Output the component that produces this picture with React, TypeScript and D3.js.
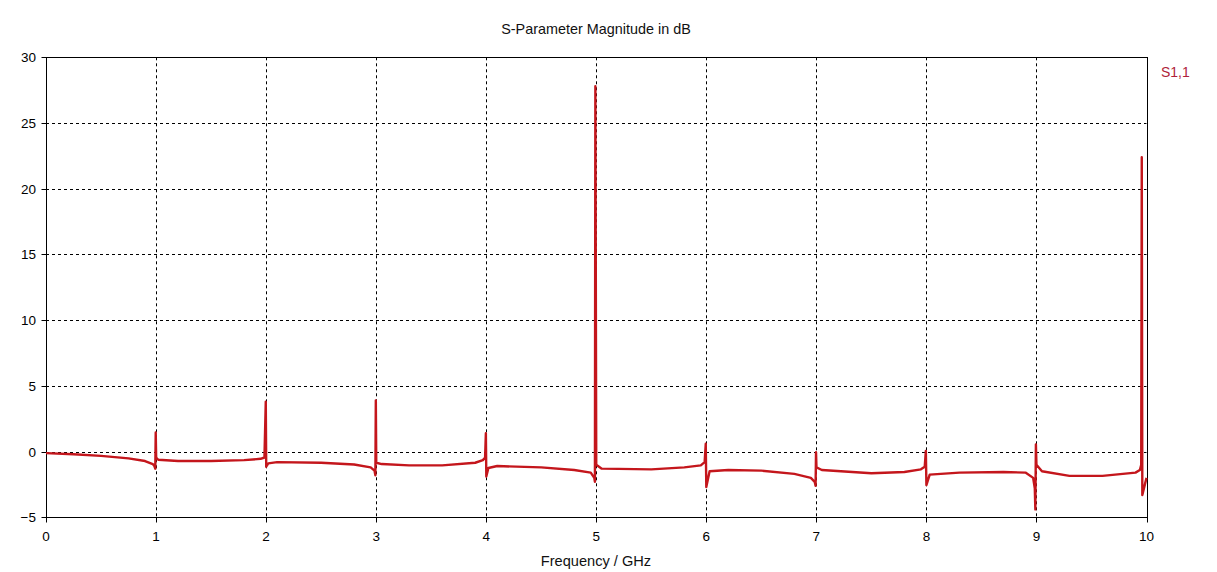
import React, { useEffect, useRef } from "react";
import * as d3 from "d3";

const freqGHz = [
  0, 0.25, 0.5, 0.75, 0.9, 0.97, 0.985, 0.993, 0.997, 1.001, 1.02,
  1.2, 1.5, 1.8, 1.95, 1.985, 1.997, 2.001, 2.02, 2.1,
  2.5, 2.8, 2.95, 2.985, 2.993, 2.997, 3.001, 3.05, 3.3, 3.6, 3.9, 3.97, 3.99, 3.997, 4.001, 4.02, 4.1,
  4.5, 4.8, 4.95, 4.982, 4.988, 4.992, 5.0, 5.05, 5.5, 5.8, 5.95, 5.985, 5.995, 6.0, 6.03, 6.2,
  6.5, 6.8, 6.95, 6.985, 6.993, 6.997, 7.001, 7.05, 7.5, 7.8, 7.95, 7.985, 7.995, 8.0, 8.03, 8.3,
  8.7, 8.9, 8.97, 8.985, 8.99, 8.995, 9.0, 9.05, 9.3, 9.6, 9.9, 9.94, 9.952, 9.957, 9.962, 10.0,
];
const s11dB = [
  -0.12, -0.2, -0.33, -0.52, -0.72, -0.95, -1.1, -1.3, 1.45, -0.45, -0.62,
  -0.72, -0.72, -0.65, -0.55, -0.45, 3.8, -1.15, -0.9, -0.8,
  -0.85, -0.98, -1.2, -1.45, -1.8, 3.9, -0.85, -0.95, -1.05, -1.05, -0.85, -0.65, -0.45, 1.4, -1.9, -1.25, -1.1,
  -1.2, -1.4, -1.6, -2.0, -2.3, 27.8, -1.0, -1.3, -1.35, -1.2, -1.05, -0.8, 0.6, -2.7, -1.5, -1.4,
  -1.45, -1.7, -2.0, -2.3, -2.6, -0.05, -1.2, -1.4, -1.65, -1.55, -1.35, -1.15, 0.05, -2.55, -1.75, -1.6,
  -1.55, -1.6, -2.0, -2.8, -4.4, 0.55, -1.0, -1.5, -1.85, -1.85, -1.6, -1.4, -1.0, 22.4, -3.3, -2.0,
];

const xTicks = [0, 1, 2, 3, 4, 5, 6, 7, 8, 9, 10];
const yTicks = [-5, 0, 5, 10, 15, 20, 25, 30];
const seriesName = "S1,1";
const title = "S-Parameter Magnitude in dB";
const xLabel = "Frequency / GHz";

const W = 1217;
const H = 572;
const FONT = "Liberation Sans, Arial, sans-serif";

export default function App() {
  const ref = useRef<SVGSVGElement>(null);
  useEffect(() => {
    const svg = d3.select(ref.current);
    svg.selectAll("*").remove();
    const x = d3.scaleLinear().domain([0, 10]).range([46, 1146.5]);
    const y = d3.scaleLinear().domain([-5, 30]).range([517.3, 57.3]);

    svg.append("rect").attr("width", W).attr("height", H).attr("fill", "#fff");

    const g = svg.append("g");
    // grid
    g.selectAll("line.vg")
      .data(xTicks.filter((t) => t > 0 && t < 10))
      .join("line")
      .attr("x1", (d) => Math.round(x(d)) + 0.5)
      .attr("x2", (d) => Math.round(x(d)) + 0.5)
      .attr("y1", y(30))
      .attr("y2", y(-5))
      .attr("stroke", "#000")
      .attr("stroke-width", 1)
      .attr("stroke-dasharray", "3,3");
    g.selectAll("line.hg")
      .data(yTicks.filter((t) => t > -5 && t < 30))
      .join("line")
      .attr("x1", x(0))
      .attr("x2", x(10))
      .attr("y1", (d) => Math.round(y(d)) + 0.5)
      .attr("y2", (d) => Math.round(y(d)) + 0.5)
      .attr("stroke", "#000")
      .attr("stroke-width", 1)
      .attr("stroke-dasharray", "3,3");

    // border
    const L = Math.round(x(0)) + 0.5, R = Math.round(x(10)) + 0.5;
    const T = Math.round(y(30)) + 0.5, B = Math.round(y(-5)) + 0.5;
    g.append("rect")
      .attr("x", L).attr("y", T).attr("width", R - L).attr("height", B - T)
      .attr("fill", "none").attr("stroke", "#000").attr("stroke-width", 1);

    // ticks
    g.selectAll("line.yt").data(yTicks).join("line")
      .attr("x1", L - 5).attr("x2", L)
      .attr("y1", (d) => Math.round(y(d)) + 0.5).attr("y2", (d) => Math.round(y(d)) + 0.5)
      .attr("stroke", "#000");
    g.selectAll("line.xt").data(xTicks).join("line")
      .attr("x1", (d) => Math.round(x(d)) + 0.5).attr("x2", (d) => Math.round(x(d)) + 0.5)
      .attr("y1", B).attr("y2", B + 5)
      .attr("stroke", "#000");

    g.selectAll("text.yl").data(yTicks).join("text")
      .attr("x", 36).attr("y", (d) => y(d) + 5)
      .attr("text-anchor", "end")
      .attr("font-family", FONT).attr("font-size", 13.5).attr("fill", "#000")
      .text((d) => d3.format("d")(d));
    g.selectAll("text.xl").data(xTicks).join("text")
      .attr("x", (d) => x(d)).attr("y", 541)
      .attr("text-anchor", "middle")
      .attr("font-family", FONT).attr("font-size", 13.5).attr("fill", "#000")
      .text((d) => String(d));

    // line
    const pts = freqGHz.map((f, i) => [f, s11dB[i]] as [number, number]);
    const line = d3.line<[number, number]>().x((d) => x(d[0])).y((d) => y(d[1]));
    g.append("path")
      .attr("d", line(pts))
      .attr("fill", "none")
      .attr("stroke", "#c4161c")
      .attr("stroke-width", 2.4)
      .attr("stroke-linejoin", "round");

    // texts
    svg.append("text").attr("x", 596).attr("y", 34).attr("text-anchor", "middle")
      .attr("font-family", FONT).attr("font-size", 14.4).attr("fill", "#111").text(title);
    svg.append("text").attr("x", 596).attr("y", 566).attr("text-anchor", "middle")
      .attr("font-family", FONT).attr("font-size", 14.6).attr("fill", "#111").text(xLabel);
    svg.append("text").attr("x", 1161).attr("y", 77)
      .attr("font-family", FONT).attr("font-size", 14).attr("fill", "#b01e3a").text(seriesName);
  }, []);
  return (
    <svg
      ref={ref}
      width={W}
      height={H}
      style={{ position: "absolute", left: 0, top: 0, display: "block" }}
    />
  );
}
